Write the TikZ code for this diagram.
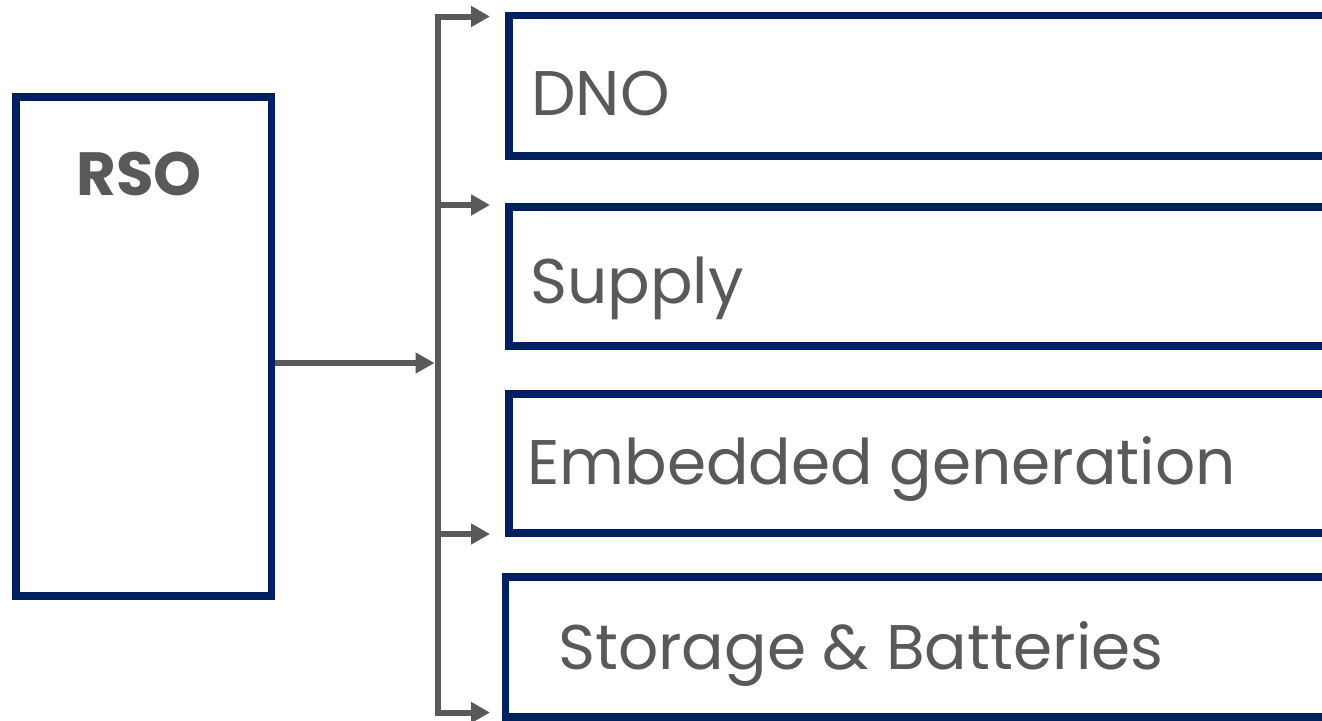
\documentclass[tikz,border=0pt]{standalone}
\usepackage{fontspec}
\setmainfont{Poppins}
\usetikzlibrary{arrows.meta}
\definecolor{navy}{HTML}{002060}
\definecolor{txtgray}{HTML}{595959}
\tikzset{
  box/.style={draw=navy, line width=7.5pt, rectangle, inner sep=0pt},
  lbl/.style={anchor=base west, inner sep=0pt, text=txtgray, font=\fontsize{63}{72}\selectfont},
  tip/.tip={Triangle[length=19pt,width=20pt]},
  conn/.style={draw=txtgray, line width=6pt, -tip},
  bar/.style={draw=txtgray, line width=6pt, miter limit=10}
}
\begin{document}
\begin{tikzpicture}[x=1pt,y=-1pt]
\useasboundingbox (0,0) rectangle (1322,720);
\clip (0,0) rectangle (1322,720);
% RSO box
\node[box, minimum width=255.5pt, minimum height=499pt] (rso) at (143.75,346.5) {};
\node[anchor=base, inner sep=0pt, text=txtgray, font=\fontsize{61}{72}\selectfont\bfseries] (rsotext) at (139,195) {RSO};
% right boxes
\node[box, minimum width=831pt, minimum height=140.5pt] (dno) at (924.5,85.75) {};
\node[box, minimum width=831pt, minimum height=139pt] (sup) at (924.5,276.5) {};
\node[box, minimum width=831pt, minimum height=139pt] (emb) at (924.5,463.5) {};
\node[box, minimum width=834.5pt, minimum height=140pt] (sto) at (922.75,647) {};
\node[lbl] (dnotext) at (531,115) {DNO};
\node[lbl] (suptext) at (530,303) {Supply};
\node[lbl] (embtext) at (527,484) {Embedded generation};
\node[lbl] (stotext) at (558,669) {Storage \& Batteries};
% bracket
\coordinate (btop) at (437.5,16.5);
\coordinate (bbot) at (437.5,712.5);
\coordinate (b2) at (437.5,205);
\coordinate (b3) at (437.5,534);
\coordinate (bmid) at (434.5,363);
\coordinate (t1) at (490,16.5);
\coordinate (t2) at (490,205);
\coordinate (t3) at (490,534);
\coordinate (t4) at (490,712.5);
\draw[bar, tip-tip] (t1) -- (btop) -- (bbot) -- (t4);
\draw[conn] (b2) -- (t2);
\draw[conn] (b3) -- (t3);
\draw[conn] (rso.east |- bmid) -- (bmid);
\end{tikzpicture}
\end{document}
